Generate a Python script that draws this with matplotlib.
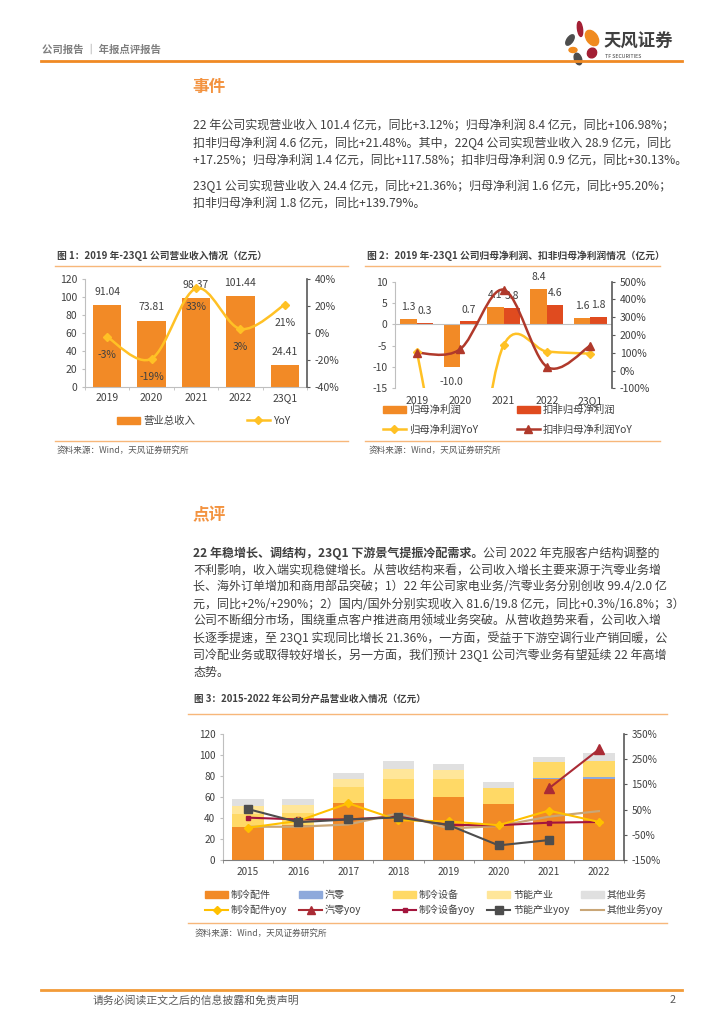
import matplotlib
matplotlib.use('Agg')
import matplotlib.pyplot as plt
import numpy as np
from matplotlib.path import Path
from matplotlib.patches import PathPatch, Ellipse, Patch
from matplotlib.lines import Line2D
from matplotlib.ticker import FuncFormatter

plt.rcParams['font.family'] = ['Noto Sans CJK SC', 'DejaVu Sans']
plt.rcParams['axes.unicode_minus'] = False

# ---- data: figure 1 (revenue, 亿元) ----
rev_periods = ['2019', '2020', '2021', '2022', '23Q1']
rev_total = [91.04, 73.81, 98.37, 101.44, 24.41]
rev_yoy = [-3, -19, 33, 3, 21]

# ---- data: figure 2 (net profit, 亿元) ----
np_parent = [1.3, -10.0, 4.1, 8.4, 1.6]
np_deducted = [0.3, 0.7, 3.8, 4.6, 1.8]
np_parent_yoy = [105, -869, 141, 107, 95]
np_deducted_yoy = [100, 120, 455, 21, 140]

# ---- data: figure 3 (revenue by product, 亿元) ----
seg_years = ['2015', '2016', '2017', '2018', '2019', '2020', '2021', '2022']
seg_parts = [31.5, 33.0, 54.5, 58.5, 60.0, 53.0, 77.2, 77.0]
seg_auto = [0, 0, 0, 0, 0, 0, 0.6, 2.0]
seg_equip = [12.0, 11.5, 15.0, 18.5, 17.5, 16.0, 15.8, 15.0]
seg_energy = [7.5, 7.5, 7.5, 9.5, 8.0, 0, 0, 0]
seg_other = [7.5, 6.5, 6.0, 7.5, 5.5, 5.0, 4.8, 7.5]
parts_yoy = [-22, 5, 75, 8, 3, -12, 46, 1]
auto_yoy = [None, None, None, None, None, None, 134, 289]
equip_yoy = [18, 11, 11, 22, -11, -12, -2, 1]
energy_yoy = [52, 0, 11, 19, -11, -92, -71, None]
other_yoy = [-18, -18, -9, 35, -25, -15, 22, 44]

header_text = '公司报告 ｜ 年报点评报告'
event_lines = [
    '22 年公司实现营业收入 101.4 亿元，同比+3.12%；归母净利润 8.4 亿元，同比+106.98%；',
    '扣非归母净利润 4.6 亿元，同比+21.48%。其中，22Q4 公司实现营业收入 28.9 亿元，同比',
    '+17.25%；归母净利润 1.4 亿元，同比+117.58%；扣非归母净利润 0.9 亿元，同比+30.13%。',
    '23Q1 公司实现营业收入 24.4 亿元，同比+21.36%；归母净利润 1.6 亿元，同比+95.20%；',
    '扣非归母净利润 1.8 亿元，同比+139.79%。',
]
event_y = [126, 143, 161, 186, 203]
review_bold = '22 年稳增长、调结构，23Q1 下游景气提振冷配需求。'
review_lines = [
    '公司 2022 年克服客户结构调整的',
    '不利影响，收入端实现稳健增长。从营收结构来看，公司收入增长主要来源于汽零业务增',
    '长、海外订单增加和商用部品突破；1）22 年公司家电业务/汽零业务分别创收 99.4/2.0 亿',
    '元，同比+2%/+290%；2）国内/国外分别实现收入 81.6/19.8 亿元，同比+0.3%/16.8%；3）',
    '公司不断细分市场，围绕重点客户推进商用领域业务突破。从营收趋势来看，公司收入增',
    '长逐季提速，至 23Q1 实现同比增长 21.36%，一方面，受益于下游空调行业产销回暖，公',
    '司冷配业务或取得较好增长，另一方面，我们预计 23Q1 公司汽零业务有望延续 22 年高增',
    '态势。',
]
review_y = [553, 570, 587, 604, 621, 638, 655, 672]

W, H = 724, 1024
ORANGE = '#F28A26'
RED = '#E04B1F'
YELLOW = '#FFC125'
DARKRED = '#B0392B'
TXT = '#404040'
LINEOR = '#F7B77A'
BODY = 8.65
source = '资料来源：Wind，天风证券研究所'


def rect(l, t, r, b):
    return [l / W, 1 - b / H, (r - l) / W, (b - t) / H]


def smooth_path(xs, ys):
    pts = np.column_stack([xs, ys]).astype(float)
    n = len(pts)
    verts, codes = [pts[0]], [Path.MOVETO]
    for i in range(n - 1):
        p0 = pts[i - 1] if i > 0 else pts[i]
        p1, p2 = pts[i], pts[i + 1]
        p3 = pts[i + 2] if i + 2 < n else pts[i + 1]
        verts += [p1 + (p2 - p0) / 6, p2 - (p3 - p1) / 6, p2]
        codes += [Path.CURVE4] * 3
    return Path(verts, codes)


def style_pair(ax, axr, fs=7.5):
    for s in ['top', 'right']:
        ax.spines[s].set_visible(False)
    for s in ['top', 'left', 'bottom']:
        axr.spines[s].set_visible(False)
    ax.spines['left'].set_color('#BFBFBF')
    ax.spines['bottom'].set_color('#BFBFBF')
    axr.spines['right'].set_color('#595959')
    axr.spines['right'].set_linewidth(1.2)
    ax.tick_params(axis='y', length=2.5, color='#BFBFBF', labelsize=fs, labelcolor=TXT, pad=3)
    axr.tick_params(axis='y', length=2.5, color='#595959', labelsize=fs, labelcolor=TXT, pad=3)
    axr.yaxis.set_major_formatter(FuncFormatter(lambda v, p: f'{v:.0f}%'))


def legend_item(handle, label, x, y, fs=7.5, hl=2.2):
    fig.legend(handles=[handle], labels=[label], loc='center left',
               bbox_to_anchor=(x / W, 1 - y / H), frameon=False, borderaxespad=0,
               borderpad=0, handlelength=hl, handletextpad=0.3, fontsize=fs,
               labelcolor=TXT)


fig = plt.figure(figsize=(7.24, 10.24), dpi=100)
bg = fig.add_axes([0, 0, 1, 1])
bg.set_xlim(0, W)
bg.set_ylim(H, 0)
bg.axis('off')

# header
bg.text(42, 50, header_text, fontsize=7.5, color='#7F7F7F', fontweight='bold', va='center')
bg.plot([41, 682], [61, 61], color='#F08A24', lw=2)
for (cx, cy, w, h, a, c) in [(580, 29, 5, 15, -8, '#A31F34'), (592, 38, 11, 17, -35, '#F08A1E'),
                             (570, 40, 6, 12, 35, '#4D4D4D'), (573, 50, 8, 5, 0, '#F08A1E'),
                             (592, 53, 9, 10, 30, '#A31F34'), (578, 59, 7, 12, -20, '#4D4D4D')]:
    bg.add_patch(Ellipse((cx, cy), w, h, angle=a, color=c))
bg.text(603, 42, '天风证券', fontsize=12.5, fontweight='bold', color='#404040', va='center')
bg.text(605, 56, 'TF SECURITIES', fontsize=3.8, color='#404040', va='center')

# event section
bg.text(192, 87, '事件', fontsize=12, fontweight='bold', color='#F39340', va='center')
for line, y in zip(event_lines, event_y):
    bg.text(193, y, line, fontsize=BODY, color=TXT, va='center')

# review section
bg.text(192, 515, '点评', fontsize=12, fontweight='bold', color='#F39340', va='center')
t_bold = bg.text(193, review_y[0], review_bold, fontsize=BODY, color=TXT, va='center', fontweight='bold')
bg.annotate(review_lines[0], xy=(1, 0.5), xycoords=t_bold, fontsize=BODY, color=TXT, va='center', ha='left')
for line, y in zip(review_lines[1:], review_y[1:]):
    bg.text(193, y, line, fontsize=BODY, color=TXT, va='center')

# figure titles / source lines
bg.text(57, 256, '图 1：2019 年-23Q1 公司营业收入情况（亿元）', fontsize=7.0, fontweight='bold', color=TXT, va='center')
bg.plot([55, 348], [266, 266], color=LINEOR, lw=1)
bg.plot([55, 348], [441, 441], color=LINEOR, lw=1)
bg.text(57, 450, source, fontsize=6.2, color='#595959', va='center')

bg.text(367, 256, '图 2：2019 年-23Q1 公司归母净利润、扣非归母净利润情况（亿元）', fontsize=7.0, fontweight='bold', color=TXT, va='center')
bg.plot([365, 660], [266, 266], color=LINEOR, lw=1)
bg.plot([365, 660], [441, 441], color=LINEOR, lw=1)
bg.text(369, 450, source, fontsize=6.2, color='#595959', va='center')

bg.text(194, 699, '图 3：2015-2022 年公司分产品营业收入情况（亿元）', fontsize=6.9, fontweight='bold', color=TXT, va='center')
bg.plot([188, 667], [714, 714], color=LINEOR, lw=1)
bg.plot([188, 667], [923, 923], color=LINEOR, lw=1)
bg.text(195, 933, source, fontsize=6.2, color='#595959', va='center')

# footer
bg.plot([41, 682], [990, 990], color='#F29B38', lw=2)
bg.text(93, 1000, '请务必阅读正文之后的信息披露和免责声明', fontsize=7.8, color='#595959', va='center')
bg.text(676, 1000, '2', fontsize=7.8, color='#595959', va='center', ha='right')

# ---- figure 1 ----
x = np.arange(len(rev_periods))
ax1 = fig.add_axes(rect(85, 279, 307, 387))
ax1.bar(x, rev_total, width=0.64, color=ORANGE)
ax1.set_xlim(-0.5, 4.5)
ax1.set_ylim(0, 120)
ax1.set_yticks(range(0, 121, 20))
ax1.set_xticks(x, rev_periods)
ax1.set_xticks(np.arange(-0.5, 5, 1), minor=True)
ax1.tick_params(axis='x', which='major', length=0, pad=4.5, labelsize=7.5, labelcolor=TXT)
ax1.tick_params(axis='x', which='minor', length=2.5, color='#BFBFBF')
for xi, v in zip(x, rev_total):
    ax1.annotate(f'{v:.2f}', (xi, v), xytext=(0, 9.5), textcoords='offset points',
                 ha='center', va='center', fontsize=7.5, color=TXT)
ax1r = ax1.twinx()
ax1r.add_patch(PathPatch(smooth_path(x, rev_yoy), fill=False, edgecolor=YELLOW, lw=1.8))
ax1r.plot(x, rev_yoy, ls='none', marker='D', ms=4.5, color=YELLOW)
for xi, v in zip(x, rev_yoy):
    ax1r.annotate(f'{v}%', (xi, v), xytext=(0, -13), textcoords='offset points',
                  ha='center', va='center', fontsize=7.5, color=TXT)
ax1r.set_ylim(-40, 40)
ax1r.set_yticks(range(-40, 41, 20))
style_pair(ax1, ax1r)
legend_item(Patch(color=ORANGE), '营业总收入', 117, 421)
legend_item(Line2D([], [], color=YELLOW, lw=1.8, marker='D', ms=4.5), 'YoY', 247, 421)

# ---- figure 2 ----
ax2 = fig.add_axes(rect(395, 281.7, 612, 388.3))
ax2.bar(x - 0.19, np_parent, width=0.38, color=ORANGE)
ax2.bar(x + 0.19, np_deducted, width=0.38, color=RED)
ax2.axhline(0, color='#BFBFBF', lw=0.8)
ax2.spines['bottom'].set_visible(False)
ax2.set_xlim(-0.5, 4.5)
ax2.set_ylim(-15, 10)
ax2.set_yticks(range(-15, 11, 5))
ax2.set_xticks(x, rev_periods)
ax2.tick_params(axis='x', length=0, pad=5.5, labelsize=7.5, labelcolor=TXT)
for xi, a, b in zip(x, np_parent, np_deducted):
    for off, v in [(-0.19, a), (0.19, b)]:
        dy = 8.5 if v >= 0 else -11
        ax2.annotate(f'{v:.1f}', (xi + off, v), xytext=(0, dy), textcoords='offset points',
                     ha='center', va='center', fontsize=7.5, color=TXT)
ax2r = ax2.twinx()
ax2r.add_patch(PathPatch(smooth_path(x, np_parent_yoy), fill=False, edgecolor=YELLOW, lw=1.8))
ax2r.plot(x, np_parent_yoy, ls='none', marker='D', ms=4.5, color=YELLOW)
ax2r.add_patch(PathPatch(smooth_path(x, np_deducted_yoy), fill=False, edgecolor=DARKRED, lw=1.8))
ax2r.plot(x, np_deducted_yoy, ls='none', marker='^', ms=6, color=DARKRED)
ax2r.set_ylim(-100, 500)
ax2r.set_yticks(range(-100, 501, 100))
style_pair(ax2, ax2r)
legend_item(Patch(color=ORANGE), '归母净利润', 383, 410)
legend_item(Patch(color=RED), '扣非归母净利润', 517, 410)
legend_item(Line2D([], [], color=YELLOW, lw=1.8, marker='D', ms=4.5), '归母净利润YoY', 383, 430)
legend_item(Line2D([], [], color=DARKRED, lw=1.8, marker='^', ms=6), '扣非归母净利润YoY', 517, 430)

# ---- figure 3 ----
c_parts, c_auto, c_equip, c_energy, c_other = ORANGE, '#8EA9DB', '#FFD966', '#FFE699', '#E0E0E0'
xs = np.arange(len(seg_years))
ax3 = fig.add_axes(rect(223, 734, 624, 860))
bottom = np.zeros(len(xs))
for vals, col in [(seg_parts, c_parts), (seg_auto, c_auto), (seg_equip, c_equip),
                  (seg_energy, c_energy), (seg_other, c_other)]:
    ax3.bar(xs, vals, width=0.63, bottom=bottom, color=col)
    bottom += np.array(vals)
ax3.set_xlim(-0.5, 7.5)
ax3.set_ylim(0, 120)
ax3.set_yticks(range(0, 121, 20))
ax3.set_xticks(xs, seg_years)
ax3.set_xticks(np.arange(-0.5, 8, 1), minor=True)
ax3.tick_params(axis='x', which='major', length=0, pad=5, labelsize=7.2, labelcolor=TXT)
ax3.tick_params(axis='x', which='minor', length=2.5, color='#7F7F7F')
ax3r = ax3.twinx()


def series(vals):
    return np.array([np.nan if v is None else v for v in vals], dtype=float)


c_pyoy, c_ayoy, c_eyoy, c_nyoy, c_oyoy = '#FFC000', '#AA2B35', '#A3153D', '#4D4D4D', '#C9A677'
ax3r.plot(xs, series(other_yoy), color=c_oyoy, lw=1.6)
ax3r.plot(xs, series(equip_yoy), color=c_eyoy, lw=1.5, marker='s', ms=2.5)
ax3r.plot(xs, series(parts_yoy), color=c_pyoy, lw=1.5, marker='D', ms=4)
ax3r.plot(xs, series(energy_yoy), color=c_nyoy, lw=1.5, marker='s', ms=5.5)
ax3r.plot(xs, series(auto_yoy), color=c_ayoy, lw=1.5, marker='^', ms=6.5)
ax3r.set_ylim(-150, 350)
ax3r.set_yticks(range(-150, 351, 100))
style_pair(ax3, ax3r, fs=7.2)
ax3.spines['bottom'].set_color('#7F7F7F')

leg_x = [205, 299, 393, 487, 581]
bars_h = [(c_parts, '制冷配件'), (c_auto, '汽零'), (c_equip, '制冷设备'), (c_energy, '节能产业'), (c_other, '其他业务')]
lines_h = [(c_pyoy, 'D', 4, '制冷配件yoy'), (c_ayoy, '^', 6, '汽零yoy'), (c_eyoy, 's', 2.5, '制冷设备yoy'),
           (c_nyoy, 's', 5.5, '节能产业yoy'), (c_oyoy, '', 0, '其他业务yoy')]
for lx, (col, lab), (lc, mk, ms, llab) in zip(leg_x, bars_h, lines_h):
    legend_item(Patch(color=col), lab, lx, 895, fs=7.2, hl=2.3)
    legend_item(Line2D([], [], color=lc, lw=1.5, marker=mk if mk else None, ms=ms), llab, lx, 910, fs=7.2, hl=2.3)

fig.savefig('out.png', dpi=100)
